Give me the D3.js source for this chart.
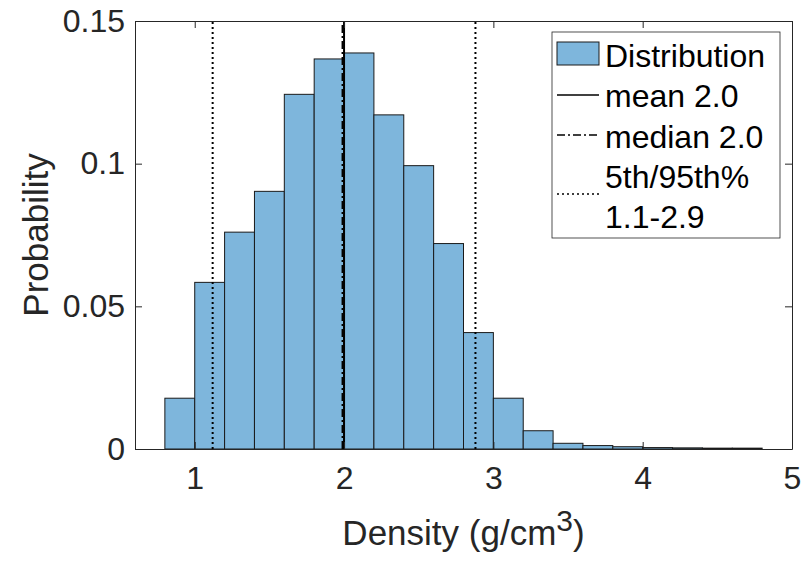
<!DOCTYPE html>
<html>
<head>
<meta charset="utf-8">
<script src="https://cdn.jsdelivr.net/npm/d3@7"></script>
<style>
  body { margin: 0; background: #fff; }
  text { font-family: Helvetica, "Liberation Sans", Arial, sans-serif; }
</style>
</head>
<body>
<div id="chart"></div>
<script>
// histogram bins (g/cm^3) and their probabilities
var binEdges = [0.8, 1.0, 1.2, 1.4, 1.6, 1.8, 2.0, 2.2, 2.4, 2.6, 2.8,
                3.0, 3.2, 3.4, 3.6, 3.8, 4.0, 4.2, 4.4, 4.6, 4.8];
var probs = [0.0178, 0.0584, 0.0760, 0.0903, 0.1243, 0.1367, 0.1388, 0.1171, 0.0993, 0.0720,
             0.0408, 0.0178, 0.0064, 0.0020, 0.0012, 0.0008, 0.0005, 0.0004, 0.0003, 0.0003];

// summary statistics
var meanVal = 2.0;
var medianVal = 1.99;
var pctLow = 1.12, pctHigh = 2.88;

var xTicks = [1, 2, 3, 4, 5];
var yTicks = [0, 0.05, 0.1, 0.15];
var legendLabels = ["Distribution", "mean 2.0", "median 2.0", "5th/95th%", "1.1-2.9"];

var W = 808, H = 562;
var margin = { top: 21, right: 16, bottom: 113, left: 135 },
    width = W - margin.left - margin.right,
    height = H - margin.top - margin.bottom;

var axisColor = "#262626";
var barColor = "#7eb6dc";

var svg = d3.select("#chart")
    .append("svg")
    .attr("width", W)
    .attr("height", H)
    .append("g")
    .attr("transform", "translate(" + margin.left + "," + margin.top + ")");

var x = d3.scaleLinear().domain([0.6, 5]).range([0, width]);
var y = d3.scaleLinear().domain([0, 0.15]).range([height, 0]);

var bins = probs.map((p, i) => ({ x0: binEdges[i], x1: binEdges[i + 1], p: p }));

// bars
svg.selectAll("rect.bar")
    .data(bins)
    .enter()
    .append("rect")
    .attr("class", "bar")
    .attr("x", d => x(d.x0))
    .attr("y", d => y(d.p))
    .attr("width", d => x(d.x1) - x(d.x0))
    .attr("height", d => y(0) - y(d.p))
    .style("fill", barColor)
    .style("stroke", "#1a1a1a")
    .style("stroke-width", 1);

// statistic lines
var statLines = [
    { v: pctLow, dash: "2,3", w: 2 },
    { v: pctHigh, dash: "2,3", w: 2 },
    { v: medianVal, dash: "8,3,2,3", w: 2 },
    { v: meanVal, dash: null, w: 2 }
];
svg.selectAll("line.stat")
    .data(statLines)
    .enter()
    .append("line")
    .attr("class", "stat")
    .attr("x1", d => x(d.v))
    .attr("x2", d => x(d.v))
    .attr("y1", y(0))
    .attr("y2", y(0.15))
    .style("stroke", "#000")
    .style("stroke-width", d => d.w)
    .style("stroke-dasharray", d => d.dash);

// axes, MATLAB style inward ticks
var fs = 32;
svg.append("g")
    .attr("class", "x-axis")
    .attr("transform", "translate(0," + height + ")")
    .call(d3.axisBottom(x).tickValues(xTicks).tickFormat(d3.format("d"))
        .tickSizeInner(-7).tickSizeOuter(0).tickPadding(17));

svg.append("g")
    .attr("class", "x-axis-top")
    .call(d3.axisTop(x).tickValues(xTicks).tickFormat("")
        .tickSizeInner(-7).tickSizeOuter(0));

svg.append("g")
    .attr("class", "y-axis")
    .call(d3.axisLeft(y).tickValues(yTicks).tickFormat(d => d === 0 ? "0" : String(d))
        .tickSizeInner(-7).tickSizeOuter(0).tickPadding(10));

svg.append("g")
    .attr("class", "y-axis-right")
    .attr("transform", "translate(" + width + ",0)")
    .call(d3.axisRight(y).tickValues(yTicks).tickFormat("")
        .tickSizeInner(-7).tickSizeOuter(0));

svg.selectAll(".x-axis path, .y-axis path, .x-axis-top path, .y-axis-right path, .tick line")
    .style("stroke", axisColor)
    .style("stroke-width", 1);

svg.selectAll(".x-axis text, .y-axis text")
    .style("font-size", fs + "px")
    .style("font-family", "Helvetica, 'Liberation Sans', Arial, sans-serif")
    .style("fill", axisColor);

// axis labels
svg.append("text")
    .attr("x", width / 2)
    .attr("y", 545 - margin.top)
    .attr("text-anchor", "middle")
    .style("font-size", "35px")
    .style("fill", axisColor)
    .call(t => {
        t.append("tspan").text("Density (g/cm");
        t.append("tspan").text("3").attr("dy", -14).style("font-size", "30px");
        t.append("tspan").text(")").attr("dy", 14);
    });

svg.append("text")
    .attr("transform", "translate(" + (48 - margin.left) + "," + (height / 2) + ") rotate(-90)")
    .attr("text-anchor", "middle")
    .style("font-size", "35px")
    .style("fill", axisColor)
    .text("Probability");

// legend
var leg = svg.append("g")
    .attr("transform", "translate(" + (552 - margin.left) + "," + (32 - margin.top) + ")");

leg.append("rect")
    .attr("width", 228)
    .attr("height", 206)
    .style("fill", "#fff")
    .style("stroke", axisColor)
    .style("stroke-width", 0.8);

leg.append("rect")
    .attr("x", 5).attr("y", 10)
    .attr("width", 42).attr("height", 23)
    .style("fill", barColor)
    .style("stroke", "#1a1a1a")
    .style("stroke-width", 1);

var legLines = [
    { y: 63, dash: null },
    { y: 103, dash: "8,3,2,3" },
    { y: 162, dash: "2,3" }
];
leg.selectAll("line")
    .data(legLines)
    .enter()
    .append("line")
    .attr("x1", 5).attr("x2", 47)
    .attr("y1", d => d.y).attr("y2", d => d.y)
    .style("stroke", "#000")
    .style("stroke-width", 1.5)
    .style("stroke-dasharray", d => d.dash);

var legBaselines = [35, 75, 116, 156, 196];
leg.selectAll("text.leg")
    .data(legendLabels)
    .enter()
    .append("text")
    .attr("class", "leg")
    .attr("x", 53)
    .attr("y", (d, i) => legBaselines[i])
    .style("font-size", fs + "px")
    .style("fill", "#000")
    .text(d => d);
</script>
</body>
</html>
